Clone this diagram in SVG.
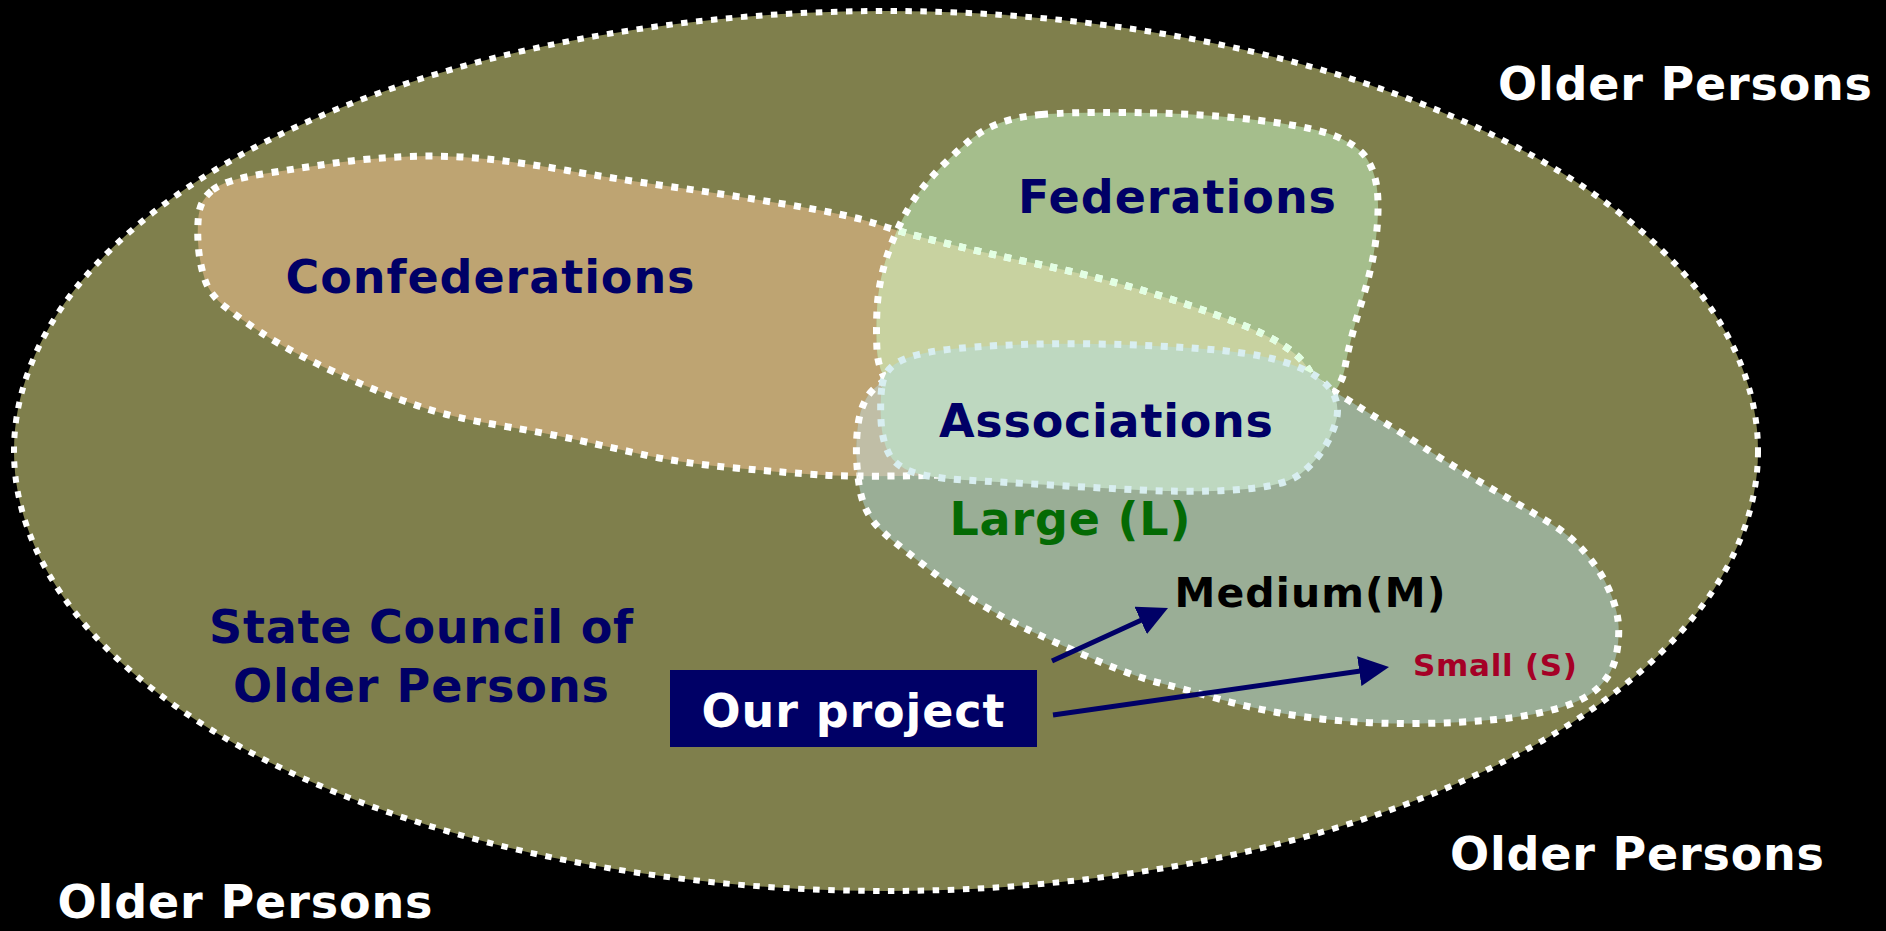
<svg xmlns="http://www.w3.org/2000/svg" width="1886" height="931" viewBox="0 0 1886 931">
<style>
.lbl{font-family:"DejaVu Sans","Liberation Sans",sans-serif;font-weight:bold;text-anchor:middle}
.navy{fill:#000066}
.white{fill:#ffffff}
.edge{fill:none;stroke:#ffffff;stroke-width:7;stroke-dasharray:7 8.5}
.edgeTint{fill:none;stroke:#e2ffe2;stroke-width:7;stroke-dasharray:7 8.5}
.arrow{fill:none;stroke:#000066;stroke-width:5;marker-end:url(#head)}
</style>
<defs>
<path id="confP" d="M 212.5,190 Q 225,180 262.5,174 Q 300,168 335,163 Q 370,158 409,156.5 Q 448,155 486.5,159 Q 525,163 567.5,170.5 Q 610,178 670,186.5 Q 730,195 790,205 Q 850,215 875,223.5 Q 900,232 942.5,242.5 Q 985,253 1032.5,263 Q 1080,273 1115,282.5 Q 1150,292 1182.5,303 Q 1215,314 1241.5,324.5 Q 1268,335 1286.5,347.5 Q 1305,360 1311.5,375 Q 1318,390 1315,415 Q 1312,440 1296,451 Q 1280,462 1215,468 Q 1150,474 1075,474 Q 1000,474 927.5,475.5 Q 855,477 822.5,475 Q 790,473 735,468 Q 680,463 640,454 Q 600,445 572.5,439 Q 545,433 500,425.5 Q 455,418 424.5,408 Q 394,398 363.5,385 Q 333,372 306.5,358.5 Q 280,345 261,332.5 Q 242,320 226,307.5 Q 210,295 205,280 Q 200,265 198.5,248.5 Q 197,232 198.5,216 Q 200,200 212.5,190 Z"/>
<path id="fedP" d="M 1041.5,114.5 Q 1068,112 1124,112.5 Q 1180,113 1221,116.5 Q 1262,120 1294,125.5 Q 1326,131 1343,139.5 Q 1360,148 1367,159 Q 1374,170 1376.5,185 Q 1379,200 1377.5,222.5 Q 1376,245 1371.5,265 Q 1367,285 1361.5,302.5 Q 1356,320 1351.5,337.5 Q 1347,355 1344.5,370 Q 1342,385 1326,402.5 Q 1310,420 1255,430 Q 1200,440 1075,435 Q 950,430 925,415 Q 900,400 889,385 Q 878,370 877,350 Q 876,330 877,310 Q 878,290 883,270 Q 888,250 898,228.5 Q 908,207 919,192.5 Q 930,178 943,165 Q 956,152 969,141 Q 982,130 998.5,123.5 Q 1015,117 1041.5,114.5 Z"/>
<path id="largeP" d="M 886,380 Q 872,388 866,399 Q 860,410 858,425 Q 856,440 856.5,456 Q 857,472 859.5,487.5 Q 862,503 869,515 Q 876,527 892,540 Q 908,553 930,570 Q 952,587 979.5,603.5 Q 1007,620 1028.5,630 Q 1050,640 1072.5,650 Q 1095,660 1117.5,669 Q 1140,678 1163.5,684 Q 1187,690 1217,698.5 Q 1247,707 1277,712.5 Q 1307,718 1343.5,721 Q 1380,724 1420,723.5 Q 1460,723 1496,719.5 Q 1532,716 1559,708 Q 1586,700 1599.5,686.5 Q 1613,673 1616.5,654 Q 1620,635 1618,620 Q 1616,605 1608,587.5 Q 1600,570 1585,552.5 Q 1570,535 1547.5,521.5 Q 1525,508 1502.5,495 Q 1480,482 1460,470 Q 1440,458 1422.5,446.5 Q 1405,435 1387.5,424.5 Q 1370,414 1356,405 Q 1342,396 1321,384 Q 1300,372 1200,370 Q 1100,368 1000,370 Q 900,372 886,380 Z"/>
<path id="assocP" d="M 882,386 Q 884,372 894.5,364.5 Q 905,357 927.5,352.5 Q 950,348 999,345.5 Q 1048,343 1099,344 Q 1150,345 1198.5,348.5 Q 1247,352 1273.5,359 Q 1300,366 1315,375.5 Q 1330,385 1335,397.5 Q 1340,410 1335,425 Q 1330,440 1321,452.5 Q 1312,465 1301,473.5 Q 1290,482 1268.5,486 Q 1247,490 1213.5,491 Q 1180,492 1140,490 Q 1100,488 1050,485 Q 1000,482 965,480 Q 930,478 912.5,472 Q 895,466 888.5,453 Q 882,440 881,420 Q 880,400 882,386 Z"/>
<clipPath id="clipFed"><use href="#fedP"/></clipPath>
<clipPath id="clipLarge"><use href="#largeP"/></clipPath>
<marker id="head" markerUnits="userSpaceOnUse" markerWidth="30" markerHeight="30" viewBox="0 0 30 30" refX="10" refY="15" orient="auto">
<path d="M0,0 L30,15 L0,30 Z" fill="#000066"/>
</marker>
</defs>

<rect x="0" y="0" width="1886" height="931" fill="#000000"/>

<g id="state-council">
<ellipse cx="886" cy="451" rx="872" ry="440" fill="#7f7f4c" stroke="#ffffff" stroke-width="6" stroke-dasharray="6.5 8.5"/>
<text class="lbl navy" font-size="46" x="421" y="643" textLength="424">State Council of</text>
<text class="lbl navy" font-size="46" x="421" y="702" textLength="376">Older Persons</text>
</g>

<g id="confederations">
<use href="#confP" fill="#bea472"/>
<text class="lbl navy" font-size="46" x="490" y="293" textLength="409">Confederations</text>
</g>

<g id="federations">
<use href="#fedP" fill="#a5be8c"/>
<use href="#confP" fill="#c8d2a0" clip-path="url(#clipFed)"/>
<use href="#confP" class="edge"/>
<use href="#confP" class="edgeTint" clip-path="url(#clipFed)"/>
<use href="#fedP" class="edge"/>
<text class="lbl navy" font-size="46" x="1177" y="213" textLength="318">Federations</text>
</g>

<g id="large">
<use href="#largeP" fill="#9aae96"/>
<use href="#confP" fill="#c0bea6" clip-path="url(#clipLarge)"/>
<use href="#confP" class="edge" clip-path="url(#clipLarge)"/>
<use href="#largeP" class="edge"/>
<text class="lbl" font-size="46" x="1070" y="535" fill="#046a04" textLength="241">Large (L)</text>
</g>

<g id="associations">
<use href="#assocP" fill="#bed8c0" stroke="#d8eef0" stroke-width="7" stroke-dasharray="7 8.5"/>
<text class="lbl navy" font-size="46" x="1106" y="437" textLength="334">Associations</text>
</g>

<g id="medium">
<text class="lbl" font-size="41" x="1310" y="607" fill="#000000" textLength="271">Medium(M)</text>
</g>

<g id="small">
<text class="lbl" font-size="31" x="1495" y="676" fill="#a50026" textLength="164">Small (S)</text>
</g>

<g id="our-project">
<rect x="670" y="670" width="367" height="77" fill="#000066"/>
<text class="lbl white" font-size="46" x="853" y="727" textLength="303">Our project</text>
</g>

<g id="older-persons-labels">
<text class="lbl white" font-size="46" x="1685" y="100" textLength="374">Older Persons</text>
<text class="lbl white" font-size="46" x="1637" y="870" textLength="374">Older Persons</text>
<text class="lbl white" font-size="46" x="245" y="918" textLength="375">Older Persons</text>
</g>

<g id="connectors">
<path class="arrow" d="M1052,661 L1149.8,616.3"/>
<path class="arrow" d="M1053,715 L1369.2,669.8"/>
</g>
</svg>
